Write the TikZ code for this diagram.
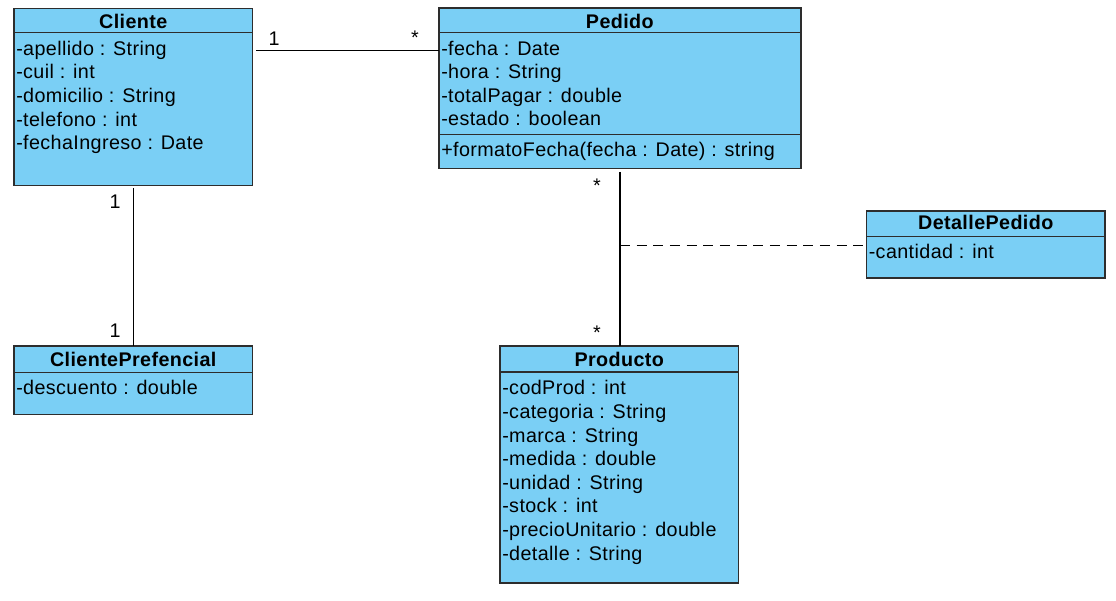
\documentclass[tikz,border=0pt]{standalone}
\usepackage{fontspec}
\setmainfont[LetterSpace=2]{Liberation Sans}
\usetikzlibrary{calc,fit}
\definecolor{classfill}{RGB}{122,207,245}
\definecolor{classline}{RGB}{45,45,45}
\newcommand\classattrs[4]{%
  \foreach \t [count=\i] in {#4} {%
    \node[attr] (#2-\i) at ($(#1.north west)+(2,{#3+23.65*(\i-1)})$) {\t};}}
\begin{document}
\begin{tikzpicture}[x=0.75pt,y=-0.75pt,
  classbox/.style={draw=classline, line width=1.2pt, fill=classfill, inner sep=0pt, outer sep=0pt},
  sepline/.style={draw=classline, line width=1.1pt},
  title/.style={font=\fontsize{14.8}{17}\selectfont\bfseries, anchor=base, inner sep=0pt},
  attr/.style={font=\fontsize{14.8}{17}\selectfont, anchor=base west, inner sep=0pt},
  conn/.style={draw=black, line width=1.05pt},
  mult/.style={font=\fontsize{14.8}{17}\selectfont, anchor=base, inner sep=0pt}]
\useasboundingbox (0,0) rectangle (1116,600);

% boxes
\node[classbox, fit={(14,8.3) (252.5,185.3)}] (cliente) {};
\node[classbox, fit={(439,8) (800.7,168.3)}] (pedido) {};
\node[classbox, fit={(14,346) (252.5,414.3)}] (cprf) {};
\node[classbox, fit={(866.5,210.7) (1105,278)}] (detalle) {};
\node[classbox, fit={(500,346) (738.5,582.7)}] (producto) {};

% separators
\draw[sepline] ($(cliente.north west)+(0,24)$) -- ($(cliente.north east)+(0,24)$);
\draw[sepline] ($(pedido.north west)+(0,24.7)$) -- ($(pedido.north east)+(0,24.7)$);
\draw[sepline] ($(pedido.north west)+(0,126.7)$) -- ($(pedido.north east)+(0,126.7)$);
\draw[sepline] ($(cprf.north west)+(0,26.3)$) -- ($(cprf.north east)+(0,26.3)$);
\draw[sepline] ($(detalle.north west)+(0,26)$) -- ($(detalle.north east)+(0,26)$);
\draw[sepline] ($(producto.north west)+(0,26)$) -- ($(producto.north east)+(0,26)$);

% titles
\node[title] (cliente-t) at ($(cliente.north)+(0,19.7)$) {Cliente};
\node[title] (pedido-t) at ($(pedido.north)+(0,20)$) {Pedido};
\node[title] (cprf-t) at ($(cprf.north)+(0,20)$) {ClientePrefencial};
\node[title] (detalle-t) at ($(detalle.north)+(0,19)$) {DetallePedido};
\node[title] (producto-t) at ($(producto.north)+(0,20)$) {Producto};

% attributes
\classattrs{cliente}{cli}{46.8}{-apellido : String,-cuil : int,-domicilio : String,-telefono : int,-fechaIngreso : Date}
\classattrs{pedido}{ped}{47}{-fecha : Date,-hora : String,-totalPagar : double,-estado : boolean}
\node[attr] (ped-m1) at ($(pedido.north west)+(2,148.7)$) {+formatoFecha(fecha : Date) : string};
\classattrs{cprf}{cpr}{48}{-descuento : double}
\classattrs{detalle}{det}{47.3}{-cantidad : int}
\classattrs{producto}{pro}{48.7}{-codProd : int,-categoria : String,-marca : String,-medida : double,-unidad : String,-stock : int,-precioUnitario : double,-detalle : String}

% connectors
\coordinate (cpA) at ($(cliente.north east)+(3.5,42.4)$);
\draw[conn] (cpA) -- (cpA -| pedido.west);
\draw[conn] ($(cliente.south)+(0,3)$) -- (cprf.north);
\draw[conn] ($(pedido.south)+(0,3.5)$) -- (pedido.south |- producto.north);
\coordinate (assoc) at ($(pedido.south |- detalle.west)+(0,1.2)$);
\draw[conn, dash pattern=on 7.5pt off 5pt] (assoc) -- (assoc -| detalle.west);

% multiplicities
\node[mult] (m1) at (274,45.5) {1};
\node[mult] (m2) at (415,44.5) {*};
\node[mult] (m3) at (115,208.5) {1};
\node[mult] (m4) at (115,337) {1};
\node[mult] (m5) at (597,192.5) {*};
\node[mult] (m6) at (597,339) {*};
\end{tikzpicture}
\end{document}
